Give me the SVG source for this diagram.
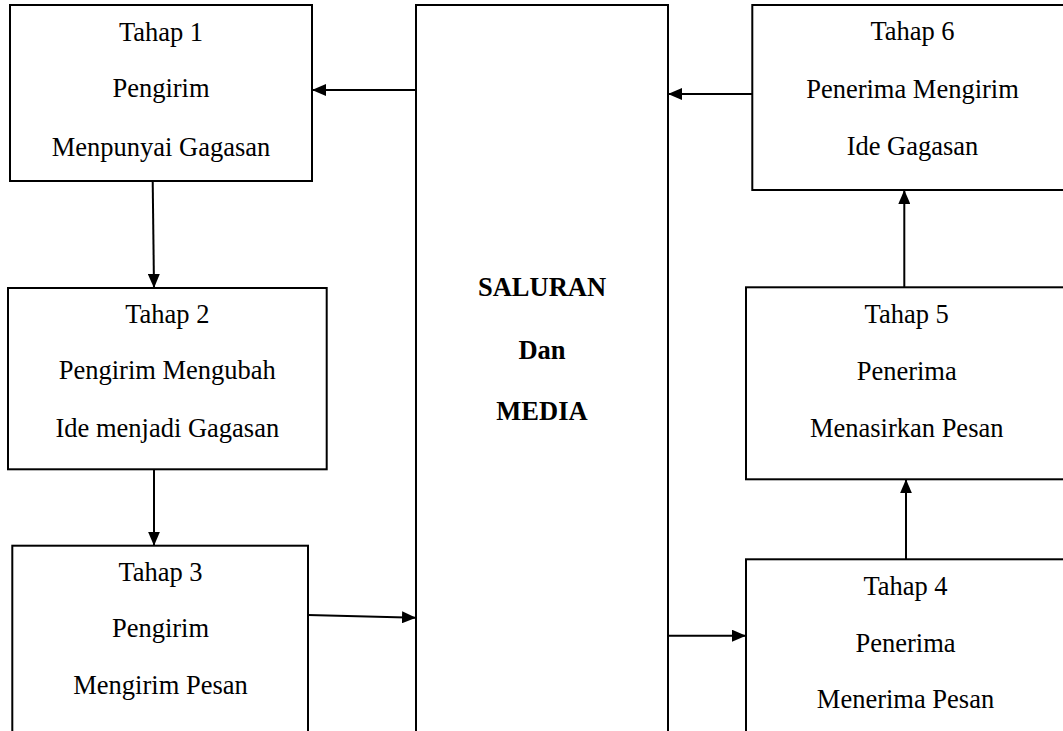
<svg xmlns="http://www.w3.org/2000/svg" width="1063" height="731" viewBox="0 0 1063 731">
<style>
.box{fill:#fff;stroke:#000;stroke-width:2}
.t{font-size:26.5px;fill:#000;text-anchor:middle}
.b{font-weight:bold}
.c{stroke:#000;stroke-width:2;fill:none;marker-end:url(#ah)}
</style>
<defs>
<marker id="ah" viewBox="0 0 14 12" refX="14" refY="6" markerWidth="14" markerHeight="12" markerUnits="userSpaceOnUse" orient="auto">
<path d="M0,0 L14,6 L0,12 Z" fill="#000"/>
</marker>
</defs>
<rect width="1063" height="731" fill="#fff"/>
<g font-family="'Liberation Serif', Tinos, 'Times New Roman', 'DejaVu Serif', serif">
<g id="media">
<rect class="box" x="416" y="5" width="252" height="740"/>
<text class="t b" x="542" y="296">SALURAN</text>
<text class="t b" x="542" y="359">Dan</text>
<text class="t b" x="542" y="420">MEDIA</text>
</g>
<g id="tahap1">
<rect class="box" x="10" y="5" width="302" height="176"/>
<text class="t" x="161" y="40.7">Tahap 1</text>
<text class="t" x="161" y="97.3">Pengirim</text>
<text class="t" x="161" y="156">Menpunyai Gagasan</text>
</g>
<g id="tahap2">
<rect class="box" x="8" y="288" width="318.7" height="181.3"/>
<text class="t" x="167.3" y="323.3">Tahap 2</text>
<text class="t" x="167.3" y="379.3">Pengirim Mengubah</text>
<text class="t" x="167.3" y="436.7">Ide menjadi Gagasan</text>
</g>
<g id="tahap3">
<rect class="box" x="12.3" y="545.7" width="295.7" height="200"/>
<text class="t" x="160.5" y="580.7">Tahap 3</text>
<text class="t" x="160.5" y="637.3">Pengirim</text>
<text class="t" x="160.5" y="694.3">Mengirim Pesan</text>
</g>
<g id="tahap6">
<rect class="box" x="752.3" y="5" width="320" height="185"/>
<text class="t" x="912.5" y="40">Tahap 6</text>
<text class="t" x="912.5" y="98">Penerima Mengirim</text>
<text class="t" x="912.5" y="155">Ide Gagasan</text>
</g>
<g id="tahap5">
<rect class="box" x="746" y="287.3" width="322" height="192"/>
<text class="t" x="906.7" y="323.3">Tahap 5</text>
<text class="t" x="906.7" y="380">Penerima</text>
<text class="t" x="906.7" y="436.7">Menasirkan Pesan</text>
</g>
<g id="tahap4">
<rect class="box" x="746" y="559.3" width="322" height="190"/>
<text class="t" x="905.5" y="595">Tahap 4</text>
<text class="t" x="905.5" y="652.3">Penerima</text>
<text class="t" x="905.5" y="708.3">Menerima Pesan</text>
</g>
</g>
<g id="connectors">
<path class="c" d="M152.7,181 L154,288"/>
<path class="c" d="M154,469.3 L154,545.7"/>
<path class="c" d="M308,615 L416,617.7"/>
<path class="c" d="M668,635.7 L746,635.7"/>
<path class="c" d="M906,559.3 L906,479.3"/>
<path class="c" d="M904.3,287.3 L904.3,190"/>
<path class="c" d="M752.3,94 L668,94"/>
<path class="c" d="M416,90 L312,90"/>
</g>
</svg>
